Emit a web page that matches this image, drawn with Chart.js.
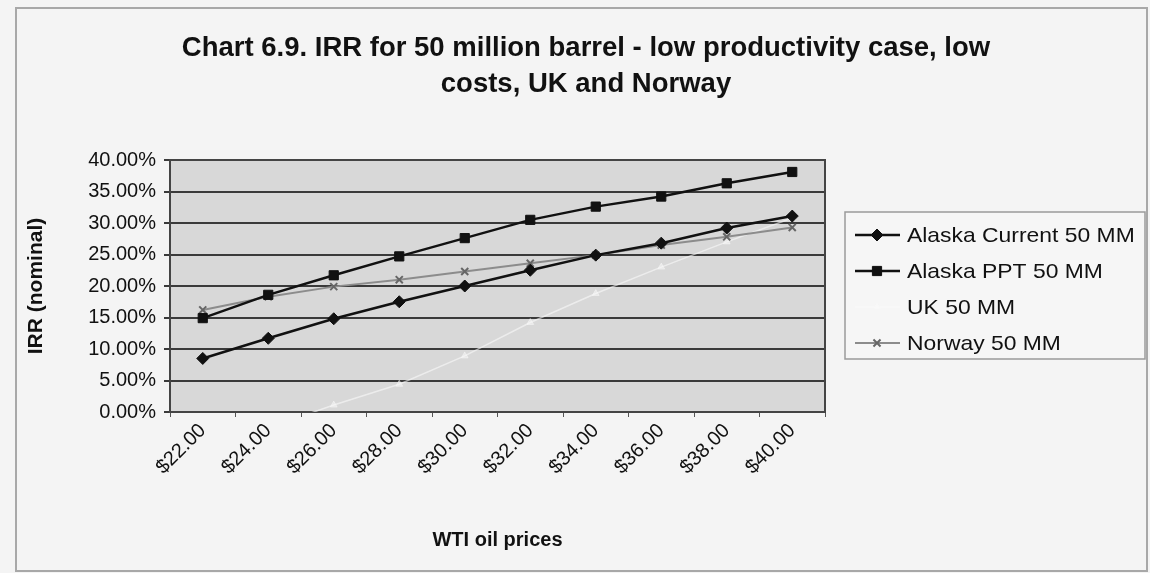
<!DOCTYPE html>
<html>
<head>
<meta charset="utf-8">
<script src="https://cdn.jsdelivr.net/npm/chart.js@4/dist/chart.umd.min.js"></script>
<style>
  body { margin: 0; background: #f4f4f4; }
  canvas { display: block; }
</style>
</head>
<body>
<canvas id="grafica" width="1150" height="573"></canvas>
<script>
// WTI oil price scenarios and IRR (nominal, %) per fiscal regime
var precios = ['$22.00', '$24.00', '$26.00', '$28.00', '$30.00', '$32.00', '$34.00', '$36.00', '$38.00', '$40.00'];
var alaskaActual = [8.5, 11.7, 14.8, 17.5, 20.0, 22.5, 24.9, 26.8, 29.2, 31.1];
var alaskaPPT = [14.9, 18.6, 21.7, 24.7, 27.6, 30.5, 32.6, 34.2, 36.3, 38.1];
var reinoUnido = [-5.5, -2.5, 1.1, 4.4, 8.9, 14.2, 18.8, 23.0, 27.0, 30.8];
var noruega = [16.2, 18.3, 19.9, 21.0, 22.3, 23.6, 24.9, 26.5, 27.8, 29.3];
var nombres = ['Alaska Current 50 MM', 'Alaska PPT 50 MM', 'UK 50 MM', 'Norway 50 MM'];
var titulo = ['Chart 6.9. IRR for 50 million barrel - low productivity case, low', 'costs, UK and Norway'];

var FUENTE = '"Liberation Sans", Arial, sans-serif';
Chart.defaults.font.family = FUENTE;
Chart.defaults.color = '#111';

// fondo, marco, area de trazado, titulo y leyenda
var decorado = {
    id: 'decorado',
    beforeDraw: function(chart) {
        var c = chart.ctx, a = chart.chartArea;
        c.save();
        c.fillStyle = '#f4f4f4';
        c.fillRect(0, 0, chart.width, chart.height);
        c.strokeStyle = '#a8a8a8';
        c.lineWidth = 2;
        c.strokeRect(16, 8, 1131, 563);
        c.fillStyle = '#d8d8d8';
        c.fillRect(a.left, a.top, a.right - a.left, a.bottom - a.top);
        c.restore();
    },
    beforeDatasetsDraw: function(chart) {
        var c = chart.ctx, a = chart.chartArea;
        c.save();
        c.strokeStyle = '#444';
        c.lineWidth = 2;
        c.strokeRect(a.left, a.top, a.right - a.left, a.bottom - a.top);
        c.restore();
    },
    afterDraw: function(chart) {
        var c = chart.ctx;
        c.save();
        c.fillStyle = '#111';
        c.font = 'bold 27.5px ' + FUENTE;
        c.textAlign = 'center';
        c.textBaseline = 'alphabetic';
        c.fillText(titulo[0], 586, 56);
        c.fillText(titulo[1], 586, 92);

        // leyenda
        c.fillStyle = '#f6f6f6';
        c.fillRect(845, 212, 300, 147);
        c.strokeStyle = '#9a9a9a';
        c.lineWidth = 1.5;
        c.strokeRect(845, 212, 300, 147);
        var filas = [235, 271, 307, 343];
        chart.data.datasets.forEach(function(ds, i) {
            var y = filas[i];
            c.strokeStyle = ds.borderColor;
            c.lineWidth = ds.borderWidth;
            c.beginPath();
            c.moveTo(855, y);
            c.lineTo(900, y);
            c.stroke();
            c.fillStyle = ds.pointBackgroundColor;
            c.strokeStyle = ds.pointBorderColor;
            c.lineWidth = ds.pointBorderWidth;
            Chart.helpers.drawPoint(c, { pointStyle: ds.pointStyle, radius: ds.pointRadius, borderWidth: ds.pointBorderWidth }, 877, y);
            // texto algo ensanchado
            c.save();
            c.translate(907, y + 1);
            c.scale(1.09, 1);
            c.fillStyle = '#111';
            c.font = '21px ' + FUENTE;
            c.textAlign = 'left';
            c.textBaseline = 'middle';
            c.fillText(ds.label, 0, 0);
            c.restore();
        });
        c.restore();
    }
};

new Chart(document.getElementById('grafica').getContext('2d'), {
    type: 'line',
    data: {
        labels: precios,
        datasets: [{
            label: nombres[0],
            data: alaskaActual,
            borderColor: '#111',
            borderWidth: 2.5,
            pointStyle: 'rectRot',
            pointRadius: 6,
            pointBackgroundColor: '#111',
            pointBorderColor: '#111',
            pointBorderWidth: 1,
            order: 0
        }, {
            label: nombres[1],
            data: alaskaPPT,
            borderColor: '#111',
            borderWidth: 2.5,
            pointStyle: 'rect',
            pointRadius: 6.5,
            pointBackgroundColor: '#111',
            pointBorderColor: '#111',
            pointBorderWidth: 1,
            order: 1
        }, {
            label: nombres[2],
            data: reinoUnido,
            borderColor: 'rgba(250,250,250,0.6)',
            borderWidth: 1.5,
            pointStyle: 'triangle',
            pointRadius: 4,
            pointBackgroundColor: 'rgba(250,250,250,0.5)',
            pointBorderColor: 'rgba(250,250,250,0.5)',
            pointBorderWidth: 1,
            order: 3
        }, {
            label: nombres[3],
            data: noruega,
            borderColor: '#8c8c8c',
            borderWidth: 2,
            pointStyle: 'crossRot',
            pointRadius: 5,
            pointBackgroundColor: '#777',
            pointBorderColor: '#666',
            pointBorderWidth: 2,
            order: 2
        }]
    },
    options: {
        responsive: false,
        animation: false,
        layout: { padding: { top: 160, right: 325, bottom: 0, left: 10 } },
        plugins: {
            legend: { display: false },
            title: { display: false },
            tooltip: { enabled: false }
        },
        scales: {
            x: {
                offset: true,
                afterFit: function(s) { s.height = 161; },
                grid: { offset: true, drawOnChartArea: false, drawTicks: true, tickLength: 5, color: '#555' },
                border: { display: true, color: '#444', width: 2 },
                ticks: { font: { size: 20 }, minRotation: 45, maxRotation: 45, autoSkip: false, padding: 2 },
                title: { display: true, text: 'WTI oil prices', font: { size: 20, weight: 'bold' }, padding: { top: 4, bottom: 21 } }
            },
            y: {
                min: 0,
                max: 40,
                afterFit: function(s) { s.width = 160; },
                grid: { color: '#3a3a3a', lineWidth: 2, tickLength: 6 },
                border: { display: true, color: '#444', width: 2 },
                ticks: {
                    stepSize: 5,
                    padding: 8,
                    font: { size: 20 },
                    callback: function(v) { return v.toFixed(2) + '%'; }
                },
                title: { display: true, text: 'IRR (nominal)', font: { size: 21, weight: 'bold' }, padding: { top: 14, bottom: 0 } }
            }
        }
    },
    plugins: [decorado]
});
</script>
</body>
</html>
